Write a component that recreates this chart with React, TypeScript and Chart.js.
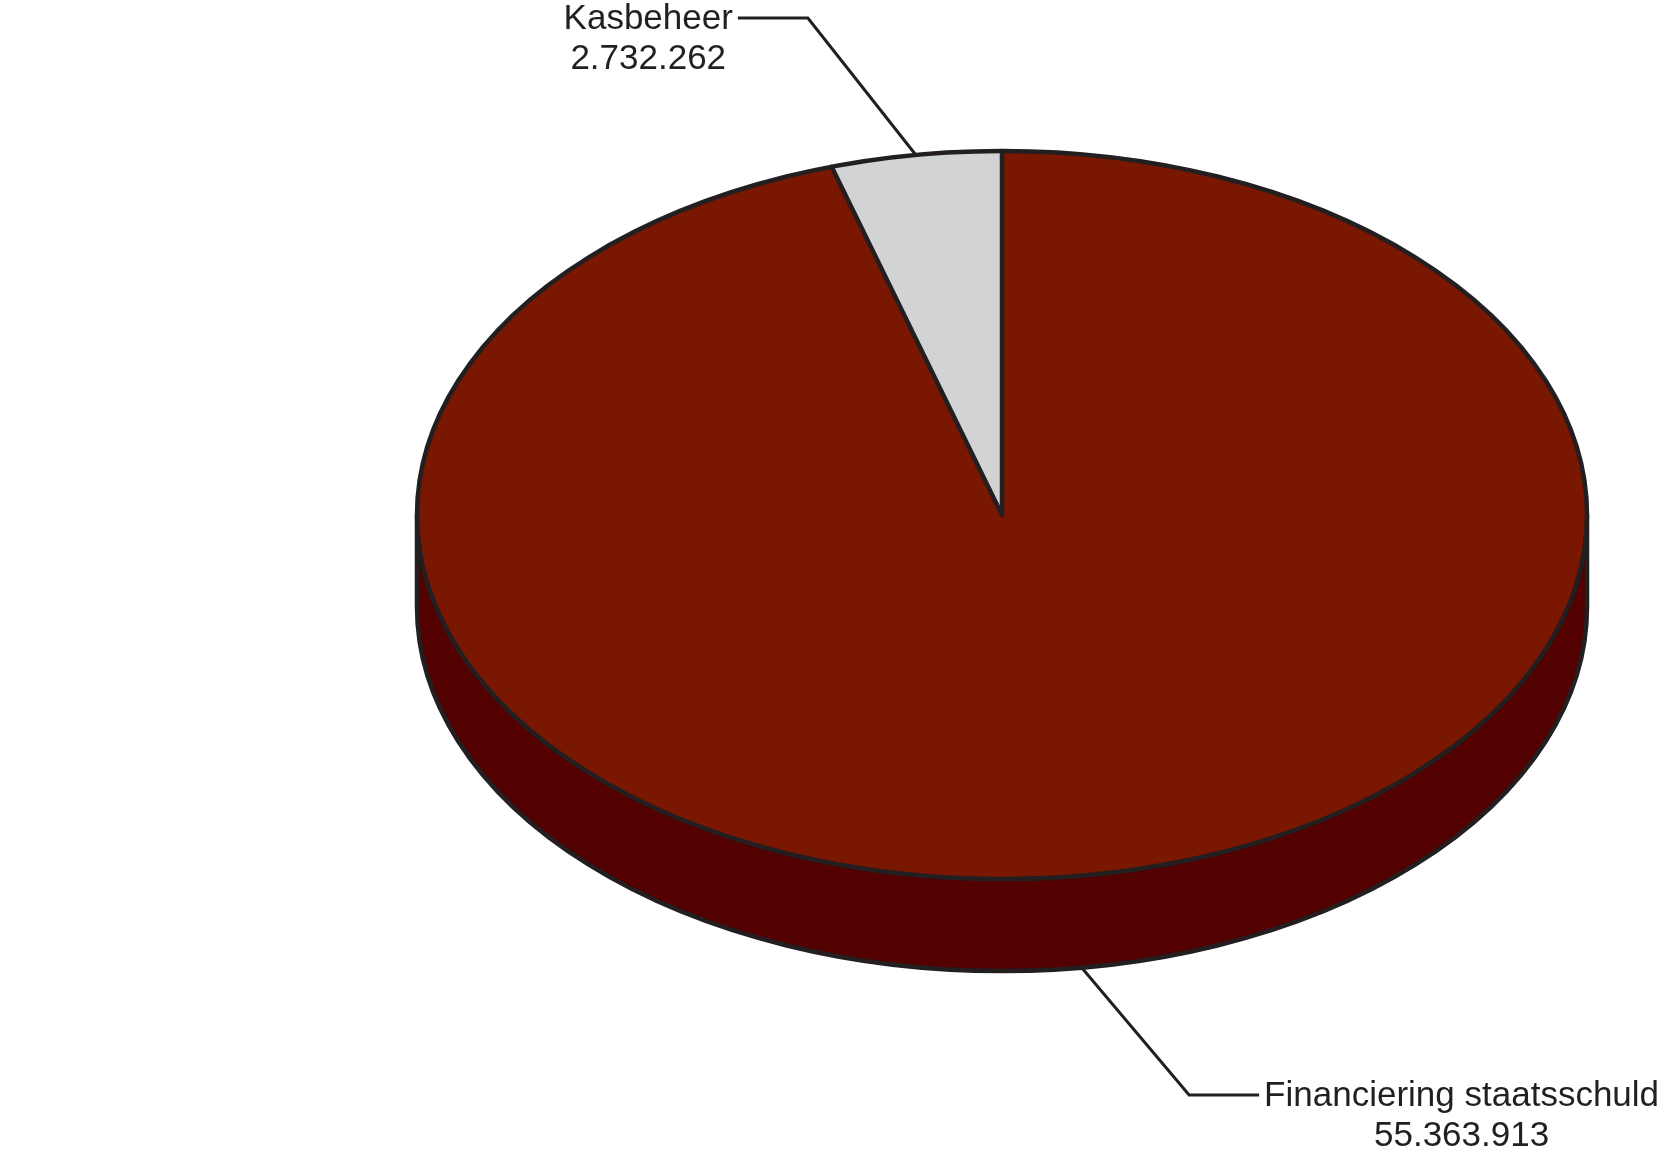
import { useEffect, useRef } from 'react'
import Chart from 'chart.js/auto'
import type { ArcElement, Plugin } from 'chart.js'

const categories = ['Financiering staatsschuld', 'Kasbeheer']
const amounts = [55363913, 2732262]
const topColors = ['#7a1700', '#d1d3d4']
const sideColors = ['#520000', '#a6a8ab']

const WIDTH = 1665
const HEIGHT = 1153
const PIE_CX = 1002
const PIE_CY = 515
const PIE_RX = 585
const PIE_RY = 364
const DEPTH = 92
const OUTLINE = '#231f20'
const LABEL_FONT = '35px "Liberation Sans", Arial, sans-serif'

function formatNumber(value: number) {
  return String(value).replace(/\B(?=(\d{3})+(?!\d))/g, '.')
}

function arcProps(arc: ArcElement) {
  return arc.getProps(['x', 'y', 'outerRadius', 'startAngle', 'endAngle'], true) as {
    x: number
    y: number
    outerRadius: number
    startAngle: number
    endAngle: number
  }
}

let transformed = false

const pie3d: Plugin<'pie'> = {
  id: 'pie3d',
  beforeDatasetsDraw(chart) {
    const arcs = chart.getDatasetMeta(0).data as unknown as ArcElement[]
    if (!arcs.length) return
    const ctx = chart.ctx

    // side wall, only the front half is visible
    ctx.save()
    arcs.forEach((arc, i) => {
      const { startAngle, endAngle } = arcProps(arc)
      for (const shift of [-2 * Math.PI, 0, 2 * Math.PI]) {
        const a1 = Math.max(startAngle + shift, 0)
        const a2 = Math.min(endAngle + shift, Math.PI)
        if (a2 <= a1) continue
        ctx.beginPath()
        ctx.ellipse(PIE_CX, PIE_CY, PIE_RX, PIE_RY, 0, a1, a2)
        ctx.ellipse(PIE_CX, PIE_CY + DEPTH, PIE_RX, PIE_RY, 0, a2, a1, true)
        ctx.closePath()
        ctx.fillStyle = sideColors[i]
        ctx.fill()
      }
    })
    ctx.lineWidth = 4.5
    ctx.lineJoin = 'round'
    ctx.strokeStyle = OUTLINE
    ctx.beginPath()
    ctx.moveTo(PIE_CX + PIE_RX, PIE_CY)
    ctx.lineTo(PIE_CX + PIE_RX, PIE_CY + DEPTH)
    ctx.ellipse(PIE_CX, PIE_CY + DEPTH, PIE_RX, PIE_RY, 0, 0, Math.PI)
    ctx.lineTo(PIE_CX - PIE_RX, PIE_CY)
    ctx.stroke()
    arcs.forEach((arc) => {
      const { startAngle } = arcProps(arc)
      const s = Math.sin(startAngle)
      if (s > 0.01) {
        const px = PIE_CX + PIE_RX * Math.cos(startAngle)
        const py = PIE_CY + PIE_RY * s
        ctx.beginPath()
        ctx.moveTo(px, py)
        ctx.lineTo(px, py + DEPTH)
        ctx.stroke()
      }
    })
    ctx.restore()

    // squash the pie's top face into the tilted ellipse
    const { x, y, outerRadius } = arcProps(arcs[0])
    ctx.save()
    ctx.translate(PIE_CX, PIE_CY)
    ctx.scale(PIE_RX / outerRadius, PIE_RY / outerRadius)
    ctx.translate(-x, -y)
    transformed = true
  },
  afterDatasetsDraw(chart) {
    const ctx = chart.ctx
    if (transformed) {
      ctx.restore()
      transformed = false
    }
    const arcs = chart.getDatasetMeta(0).data as unknown as ArcElement[]
    if (!arcs.length) return

    ctx.save()
    ctx.lineWidth = 4.5
    ctx.lineJoin = 'round'
    ctx.lineCap = 'round'
    ctx.strokeStyle = OUTLINE
    ctx.beginPath()
    ctx.ellipse(PIE_CX, PIE_CY, PIE_RX, PIE_RY, 0, 0, Math.PI * 2)
    ctx.stroke()
    arcs.forEach((arc) => {
      const { startAngle } = arcProps(arc)
      ctx.beginPath()
      ctx.moveTo(PIE_CX, PIE_CY)
      ctx.lineTo(PIE_CX + PIE_RX * Math.cos(startAngle), PIE_CY + PIE_RY * Math.sin(startAngle))
      ctx.stroke()
    })

    // leader lines and labels
    ctx.lineWidth = 3
    ctx.lineCap = 'butt'
    ctx.lineJoin = 'miter'
    ctx.font = LABEL_FONT
    ctx.fillStyle = OUTLINE
    ctx.textBaseline = 'alphabetic'
    ctx.textAlign = 'center'
    arcs.forEach((arc, i) => {
      const { startAngle, endAngle } = arcProps(arc)
      const mid = (startAngle + endAngle) / 2
      const dirX = Math.cos(mid) >= 0 ? 1 : -1
      const front = Math.sin(mid) > 0
      const ax = PIE_CX + PIE_RX * Math.cos(mid) - (front ? 7 : 0)
      const ay = PIE_CY + PIE_RY * Math.sin(mid) + (front ? DEPTH : 0)
      const ex = ax + dirX * 108
      const ey = ay + (front ? 128 : -137)
      const lx = ex + dirX * 70
      ctx.beginPath()
      ctx.moveTo(ax, ay)
      ctx.lineTo(ex, ey)
      ctx.lineTo(lx, ey)
      ctx.stroke()

      const lines = [categories[i], formatNumber(amounts[i])]
      const blockWidth = Math.max(...lines.map((l) => ctx.measureText(l).width))
      const nearEdge = lx + dirX * 5
      const centerX = nearEdge + (dirX * blockWidth) / 2
      lines.forEach((l, k) => {
        ctx.fillText(l, centerX, ey + 11 + k * 40)
      })
    })
    ctx.restore()
  },
}

function App() {
  const canvasRef = useRef<HTMLCanvasElement | null>(null)

  useEffect(() => {
    document.body.style.margin = '0'
    if (!canvasRef.current) return undefined

    const chart = new Chart(canvasRef.current, {
      type: 'pie',
      data: {
        labels: categories,
        datasets: [
          {
            data: amounts,
            backgroundColor: topColors,
            borderWidth: 0,
            hoverOffset: 0,
            clip: false,
          },
        ],
      },
      options: {
        animation: false,
        responsive: true,
        maintainAspectRatio: false,
        events: [],
        layout: { padding: 0 },
        plugins: {
          legend: { display: false },
          tooltip: { enabled: false },
        },
      },
      plugins: [pie3d],
    })

    return () => {
      chart.destroy()
    }
  }, [])

  return (
    <div style={{ width: WIDTH, height: HEIGHT, background: '#ffffff' }}>
      <canvas ref={canvasRef} />
    </div>
  )
}

export default App
